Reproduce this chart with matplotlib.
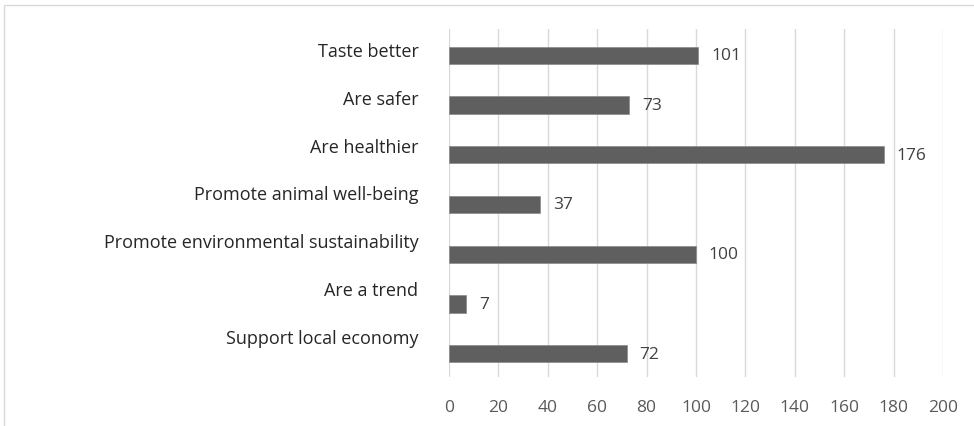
import numpy as np
import matplotlib.pyplot as plt
from matplotlib.patches import Rectangle

categories = ["Taste better", "Are safer", "Are healthier", "Promote animal well-being",
              "Promote environmental sustainability", "Are a trend", "Support local economy"]
values = [101, 73, 176, 37, 100, 7, 72]
xticks = [0, 20, 40, 60, 80, 100, 120, 140, 160, 180, 200]

plt.rcParams['font.family'] = ['Open Sans', 'DejaVu Sans']

fig = plt.figure(figsize=(9.74, 4.27), dpi=100)
fig.patches.append(Rectangle((4/974, -0.1), 1.2, 1 - 6/427 + 0.1, transform=fig.transFigure,
                             fill=False, edgecolor='#d9d9d9', linewidth=1))
ax = fig.add_axes([449/974, 1 - 378/427, (943 - 449)/974, (378 - 30)/427])

pos = np.arange(len(categories))
ax.barh(pos + 0.03, values, height=0.35, color='#5f5f5f', edgecolor='#8a8a8a', linewidth=0.5, zorder=3)
for p, v in zip(pos, values):
    ax.annotate(str(v), (v, p + 0.03), xytext=(9, 0), textcoords='offset points',
                va='center', ha='left', fontsize=12.5, color='#404040')

ax.set_ylim(len(categories) - 0.5, -0.5)
ax.set_xlim(0, 200)
ax.set_xticks(xticks)
ax.set_yticks(pos * 0.962 - 0.1)
ax.set_yticklabels(categories, fontsize=13, color='#262626')
ax.tick_params(axis='x', length=0, pad=16, labelsize=12.5, labelcolor='#595959')
ax.tick_params(axis='y', length=0, pad=22)
ax.grid(axis='x', color='#d9d9d9', linewidth=1, zorder=0)
for s in ax.spines.values():
    s.set_visible(False)

fig.savefig('out.png', dpi=100)
